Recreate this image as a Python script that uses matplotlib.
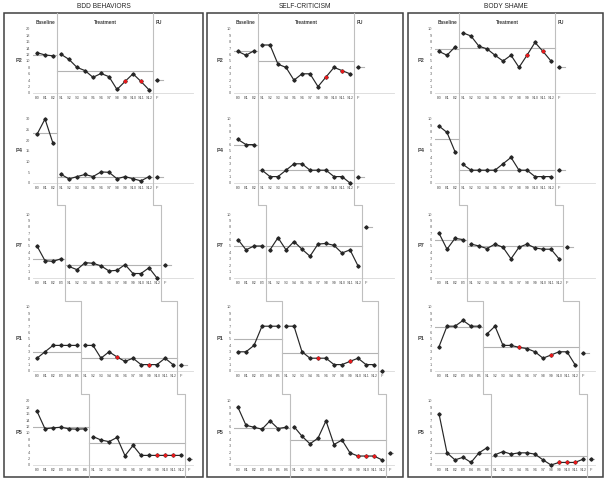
import matplotlib.pyplot as plt
from matplotlib.lines import Line2D
from matplotlib.patches import Rectangle

plt.rcParams['font.family'] = ['Liberation Sans', 'DejaVu Sans']

# -----------------------------
# Data
# -----------------------------
measures = ["BDD BEHAVIORS", "SELF-CRITICISM", "BODY SHAME"]
participants = ["P2", "P4", "P7", "P1", "P5"]

# treatment sessions (S#) that are drawn in red
imputed = {"P2": [9, 11], "P4": [], "P7": [], "P1": [5, 9], "P5": [9, 10, 11]}

# BDD behaviors
bdd_base = {
    "P2": [12.6, 11.9, 11.6],
    "P4": [22.8, 30, 18.6],
    "P7": [5, 2.7, 2.6, 3],
    "P1": [2, 3, 4, 4, 4, 4],
    "P5": [16.8, 11.3, 11.6, 11.8, 11.3, 11.2, 11.3],
}
bdd_treat = {
    "P2": [12.1, 10.5, 8, 7, 4.9, 6.1, 5.1, 1.1, 3.6, 6, 3.6, 1],
    "P4": [4.1, 1.9, 3, 4, 3, 5.2, 5, 2, 3, 2, 1, 3],
    "P7": [1.8, 1.3, 2.4, 2.3, 1.9, 1.1, 1.2, 2.1, 0.7, 0.7, 1.6, 0],
    "P1": [4, 4, 2, 3, 2.2, 1.5, 2, 1, 1, 1, 2, 1],
    "P5": [8.9, 7.8, 7.3, 8.6, 2.9, 6.1, 3, 3, 3, 3, 3, 3],
}
bdd_fu = {"P2": 4, "P4": 3, "P7": 2, "P1": 1, "P5": 1.8}
bdd_mean = {"P2": (12, 7), "P4": (23.6, 3), "P7": (2.9, 2.1), "P1": (3, 2), "P5": (11.8, 6.9)}
bdd_ymax = {"P2": 20, "P4": 30, "P7": 10, "P1": 10, "P5": 20}
bdd_ystep = {"P2": 2, "P4": 5, "P7": 1, "P1": 1, "P5": 2}

# Self-criticism
sc_base = {
    "P2": [6.5, 5.9, 6.6],
    "P4": [6.8, 6, 6],
    "P7": [6, 4.4, 5, 5],
    "P1": [3, 3, 4, 7, 7, 7],
    "P5": [9, 6.2, 5.9, 5.6, 6.9, 5.7, 5.9],
}
sc_treat = {
    "P2": [7.5, 7.5, 4.5, 4, 2, 3, 3, 1, 2.5, 4, 3.5, 3],
    "P4": [2, 1, 1, 2, 3, 3, 2, 2, 2, 1, 1, 0],
    "P7": [4.4, 6.3, 4.4, 5.7, 4.5, 3.4, 5.3, 5.4, 5.1, 3.9, 4.4, 1.9],
    "P1": [7, 7, 3, 2, 2, 2, 1, 1, 1.5, 2, 1, 1],
    "P5": [6, 4.5, 3.3, 4.2, 6.9, 3.2, 3.9, 1.9, 1.4, 1.4, 1.4, 0.8],
}
sc_fu = {"P2": 4, "P4": 1, "P7": 8, "P1": 0, "P5": 1.9}
sc_mean = {"P2": (6.5, 5), "P4": (6, 2), "P7": (5, 5), "P1": (5, 2.8), "P5": (5.8, 3.9)}

# Body shame
bs_base = {
    "P2": [6.5, 5.9, 7.2],
    "P4": [8.9, 7.9, 4.9],
    "P7": [7, 4.5, 6.2, 6],
    "P1": [3.8, 7, 7, 7.9, 7, 7],
    "P5": [8, 1.9, 0.8, 1.2, 0.4, 1.9, 2.7],
}
bs_treat = {
    "P2": [9.4, 8.9, 7.3, 6.9, 5.9, 5, 5.9, 4, 5.9, 7.9, 6.5, 5],
    "P4": [2.9, 2, 2, 2, 2, 3, 4, 2, 2, 1, 1, 1],
    "P7": [5.3, 5, 4.6, 5.3, 4.8, 3, 4.8, 5.3, 4.7, 4.5, 4.5, 3],
    "P1": [5.8, 7, 4, 4, 3.7, 3.5, 3, 2, 2.5, 3, 3, 1],
    "P5": [1.6, 2.1, 1.7, 1.9, 1.9, 1.7, 0.8, 0, 0.4, 0.4, 0.4, 0.9],
}
bs_fu = {"P2": 4, "P4": 2, "P7": 4.9, "P1": 2.8, "P5": 0.9}
bs_mean = {"P2": (6.8, 7.1), "P4": (6.8, 2), "P7": (6, 5), "P1": (6.9, 3.8), "P5": (1.8, 1.4)}

ten_max = {p: 10 for p in participants}
ten_step = {p: 1 for p in participants}

columns = [
    (bdd_base, bdd_treat, bdd_fu, bdd_mean, bdd_ymax, bdd_ystep),
    (sc_base, sc_treat, sc_fu, sc_mean, ten_max, ten_step),
    (bs_base, bs_treat, bs_fu, bs_mean, ten_max, ten_step),
]

# -----------------------------
# Layout (pixels of a 607x482 image)
# -----------------------------
W, H = 607, 482
ax_left = [33, 234, 435]
ax_w, ax_h = 160, 64
row_zero = [93, 183, 278, 371, 465]
step_y = [108, 205, 301, 394]
box_left = [4, 207, 408]
box_right = [203, 403, 603]
box_top, box_bot = 13, 477

GRAY_TXT = "#595959"
PHASE = "#bfbfbf"
MEANC = "#b3b3b3"


def fx(px):
    return px / W


def fy(py):
    return 1 - py / H


fig = plt.figure(figsize=(W / 100, H / 100), dpi=100)

for c, (base, treat, fu, means, ymax, ystep) in enumerate(columns):
    # column frame and title
    fig.add_artist(Rectangle((fx(box_left[c]), fy(box_bot)),
                             fx(box_right[c] - box_left[c]), (box_bot - box_top) / H,
                             transform=fig.transFigure, fill=False,
                             edgecolor="#404040", lw=1.1))
    fig.text(fx((box_left[c] + box_right[c]) / 2), fy(7), measures[c],
             ha="center", va="center", fontsize=4.8, color="#262626")

    bounds_b, bounds_f = [], []
    for r, p in enumerate(participants):
        ax = fig.add_axes([fx(ax_left[c]), fy(row_zero[r]), fx(ax_w), ax_h / H])
        b = base[p]
        t = treat[p]
        nb = len(b)
        nt = len(t)
        xb = list(range(nb))
        xt = list(range(nb, nb + nt))
        xf = nb + nt
        labels = ([f"B{i}" for i in range(nb)] + [f"S{i + 1}" for i in range(nt)] + ["F"])

        ax.set_xlim(-0.5, 19.5)
        ax.set_ylim(0, ymax[p])
        ax.set_yticks(range(0, ymax[p] + 1, ystep[p]))
        ax.set_xticks(range(nb + nt + 1))
        ax.set_xticklabels(labels)
        ax.tick_params(length=0, labelsize=2.8, labelcolor=GRAY_TXT, pad=2.2)
        for s in ["left", "right", "top"]:
            ax.spines[s].set_visible(False)
        ax.spines["bottom"].set_color("#d9d9d9")
        ax.spines["bottom"].set_linewidth(0.6)
        ax.patch.set_alpha(0)

        # phase means
        mb, mt = means[p]
        ax.plot([-0.5, nb - 0.5], [mb, mb], color=MEANC, lw=0.8, zorder=1)
        ax.plot([nb - 0.5, nb + nt - 0.5], [mt, mt], color=MEANC, lw=0.8, zorder=1)
        ax.plot([xf - 0.3, xf + 0.7], [fu[p], fu[p]], color=MEANC, lw=0.8, zorder=1)

        # series
        kw = dict(color="#262626", lw=0.85, marker="D", ms=1.7, clip_on=False, zorder=3)
        ax.plot(xb, b, **kw)
        ax.plot(xt, t, **kw)
        ax.plot([xf], [fu[p]], **kw)
        red_x = [nb + s - 1 for s in imputed[p]]
        red_y = [t[s - 1] for s in imputed[p]]
        ax.plot(red_x, red_y, ls="none", marker="s", ms=1.8, color="#e41a1c",
                clip_on=False, zorder=4)

        # participant label
        fig.text(fx(ax_left[c] - 14), fy(row_zero[r] - ax_h / 2), p,
                 ha="center", va="center", fontsize=4, fontweight="bold", color="#404040")

        # phase boundary positions in figure units
        to_fig = fig.transFigure.inverted()
        bounds_b.append(to_fig.transform(ax.transData.transform((nb - 0.5, 0)))[0])
        bounds_f.append(to_fig.transform(ax.transData.transform((nb + nt - 0.5, 0)))[0])

        if r == 0:
            hy = fy(22)
            x0 = to_fig.transform(ax.transData.transform((-0.5, 0)))[0]
            fig.text((x0 + bounds_b[0]) / 2, hy, "Baseline", ha="center", va="center",
                     fontsize=3.4, fontweight="bold", color="#404040")
            fig.text((bounds_b[0] + bounds_f[0]) / 2, hy, "Treatment", ha="center", va="center",
                     fontsize=3.4, fontweight="bold", color="#404040")
            fig.text(bounds_f[0] + fx(3), hy, "FU", ha="left", va="center",
                     fontsize=3.4, fontweight="bold", color="#404040")

    # staircase phase-change lines
    for bx in (bounds_b, bounds_f):
        xs = [bx[0]]
        ys = [fy(box_top)]
        for r in range(len(participants) - 1):
            xs += [bx[r], bx[r + 1]]
            ys += [fy(step_y[r]), fy(step_y[r])]
        xs.append(bx[-1])
        ys.append(fy(box_bot))
        fig.add_artist(Line2D(xs, ys, transform=fig.transFigure, color=PHASE, lw=0.8))

fig.savefig("out.png", dpi=100)
